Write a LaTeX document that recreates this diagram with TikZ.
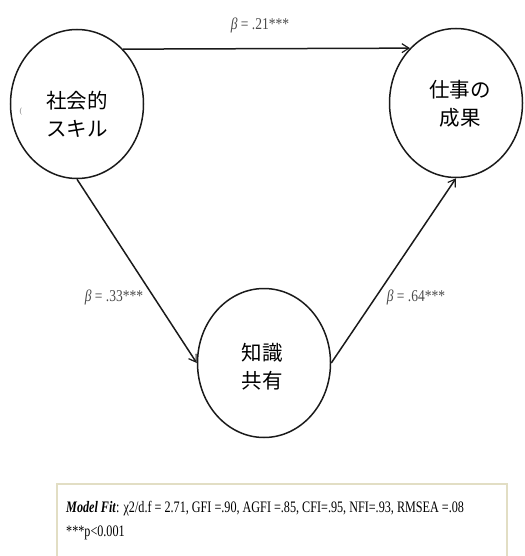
\documentclass[tikz,border=0pt]{standalone}
\usepackage{fontspec}
\setmainfont{Liberation Serif}
\newfontfamily\cjk{Noto Sans CJK JP}
\usetikzlibrary{arrows.meta,shapes.geometric}
\definecolor{lbl}{HTML}{4A4A4A}
\definecolor{boxc}{HTML}{E2DEC4}
\definecolor{ink}{HTML}{1A1A1A}
\tikzset{
  latent/.style={ellipse, draw=ink, line width=1.5bp, minimum width=133bp, minimum height=149bp, inner sep=0pt},
  jp/.style={font=\cjk\fontsize{20.5bp}{28bp}\selectfont, align=center, inner sep=0pt},
  path/.style={draw=ink, line width=1.5bp, -{Straight Barb[length=7bp,width=9bp,line width=1.2bp]}},
  beta/.style={font=\fontsize{16.5bp}{18bp}\selectfont, text=lbl, inner sep=0pt},
  fit/.style={font=\fontsize{16bp}{24bp}\selectfont, align=left, inner sep=0pt, anchor=west}
}
\newcommand{\narrow}[1]{\scalebox{0.76}[1]{#1}}
\begin{document}
\begin{tikzpicture}[x=1bp,y=-1bp]
\useasboundingbox (0,0) rectangle (525,556);
\node[latent] (a) at (77,104) {};
\node[latent] (b) at (456,103) {};
\node[latent] (c) at (264,363) {};
\node[jp] (ta) at (77,114) {社会的\\スキル};
\node[jp] (tb) at (460,104) {仕事の\\成果};
\node[jp] (tc) at (262,367) {知識\\共有};
\node[font=\fontsize{8bp}{8bp}\selectfont, text=gray, inner sep=0pt] (stray) at (21,112) {(};
\draw[path] (a.50) -- (b.130);
\draw[path] (a.south) -- (c.west);
\draw[path] (c.east) -- (b.south);
\node[beta] (l1) at (260,25) {\scalebox{0.82}[1]{\textit{β} = .21***}};
\node[beta] (l2) at (114,297) {\scalebox{0.82}[1]{\textit{β} = .33***}};
\node[beta] (l3) at (416,297) {\scalebox{0.82}[1]{\textit{β} = .64***}};
\coordinate (bl) at (57,560);
\coordinate (tr) at (507,484);
\draw[boxc, line width=1.2bp] (bl) |- (tr) -- (tr |- bl);
\node[fit] (mf) at (66,521) {\narrow{\textbf{\textit{Model Fit}}: χ2/d.f = 2.71, GFI =.90, AGFI =.85, CFI=.95, NFI=.93, RMSEA =.08}\\\narrow{***p<0.001}};
\end{tikzpicture}
\end{document}
